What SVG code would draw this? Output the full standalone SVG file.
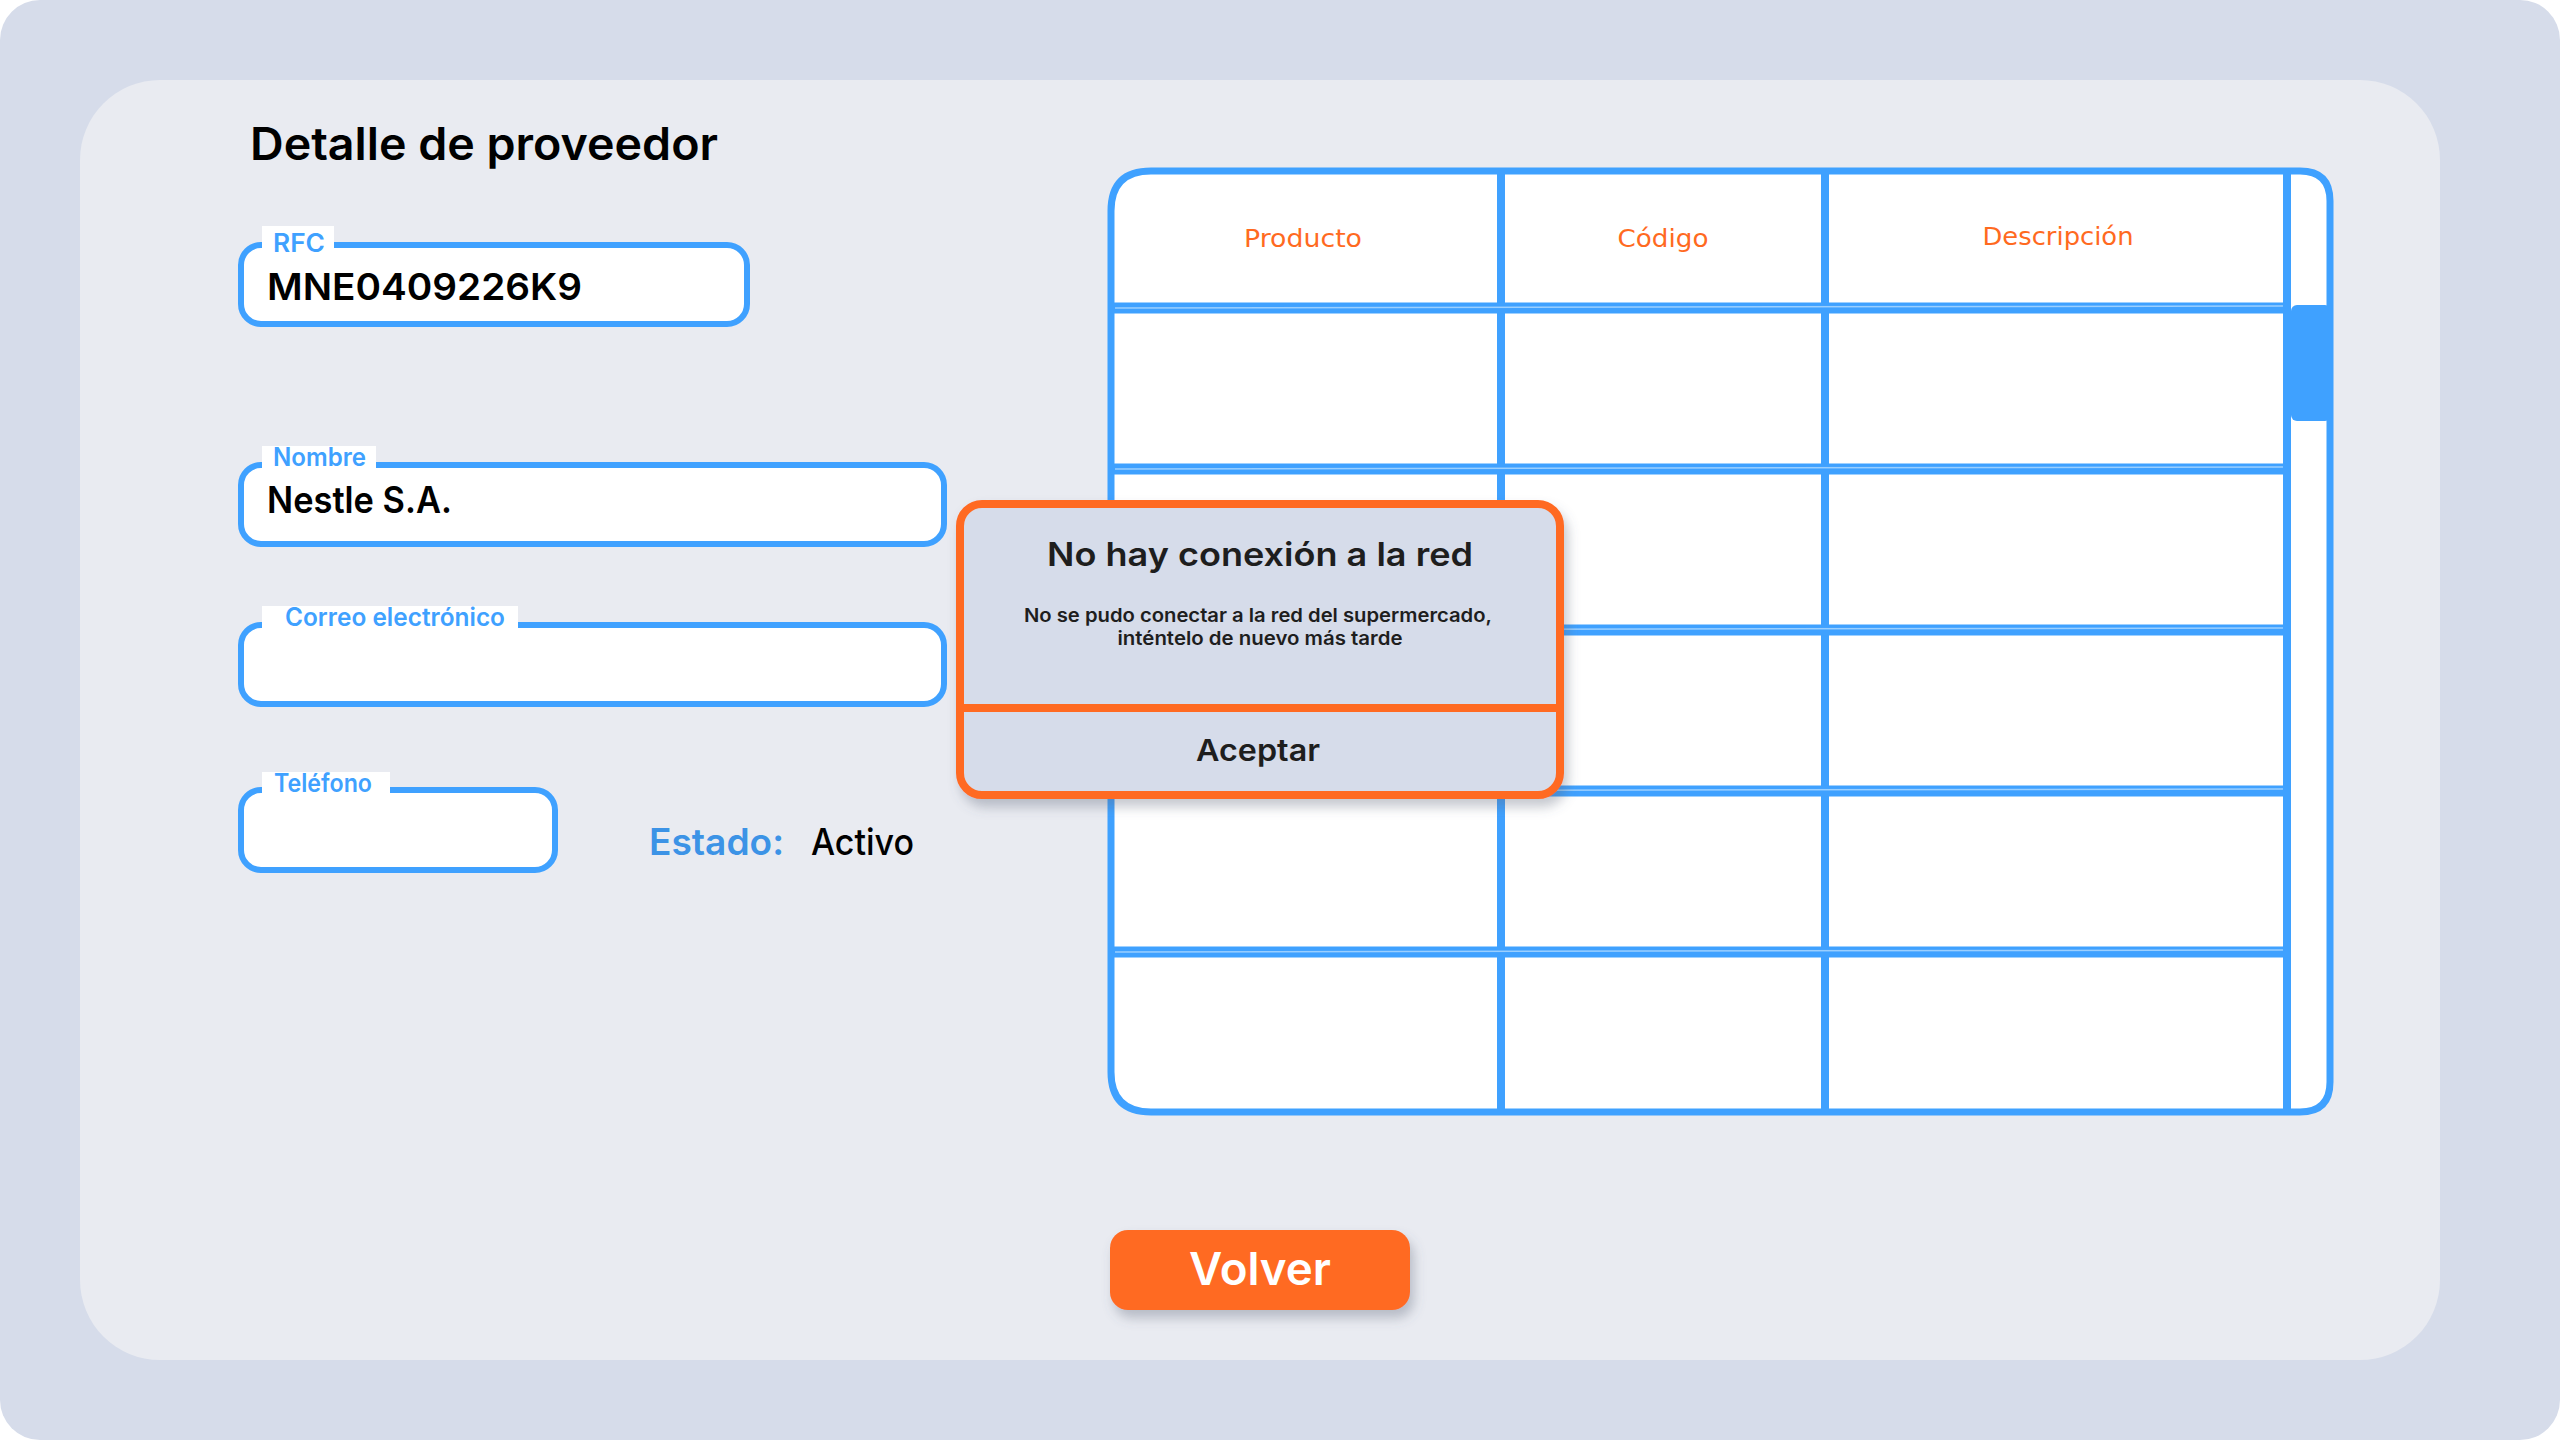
<svg xmlns="http://www.w3.org/2000/svg" width="2560" height="1440" viewBox="0 0 2560 1440">
<defs>
<style>
text{font-family:Inter,Lato,"Liberation Sans",sans-serif}
.field{fill:#FFFFFF;stroke:#3FA1FF;stroke-width:6}
.lblbg{fill:#FFFFFF}
.lbl{font-weight:600;font-size:25px;fill:#3FA1FF}
.val{font-weight:600;font-size:37px;fill:#000000}
.hdr{font-family:"DejaVu Sans","Liberation Sans",sans-serif;font-size:25px;fill:#FF6A1F;text-anchor:middle}
.grid{stroke:#3FA1FF;stroke-width:8;fill:none}
.rowl{stroke:#3FA1FF;stroke-width:11;fill:none}
.rowhl{stroke:#9ACFFF;stroke-width:1.5;fill:none}
.dlg{fill:#1E1E1E;text-anchor:middle;font-weight:600}
</style>
<filter id="shadow" x="-10%" y="-10%" width="130%" height="140%">
<feDropShadow dx="4" dy="8" stdDeviation="6" flood-color="#5A6275" flood-opacity="0.35"/>
</filter>
</defs>
<rect x="0" y="0" width="2560" height="1440" fill="#FFFFFF"/>
<g id="frame">
<rect x="0" y="0" width="2560" height="1440" rx="40" fill="#D6DCEA"/>
<rect x="80" y="80" width="2360" height="1280" rx="80" fill="#E9EBF1"/>
</g>
<g id="title">
<text x="250" y="160" font-weight="600" font-size="45" fill="#000000" textLength="468" lengthAdjust="spacingAndGlyphs">Detalle de proveedor</text>
</g>
<g id="field-rfc">
<rect class="field" x="241" y="245" width="506" height="79" rx="20"/>
<rect class="lblbg" x="262" y="226" width="72" height="22"/>
<text class="lbl" x="273" y="252" textLength="52" lengthAdjust="spacingAndGlyphs">RFC</text>
<text class="val" x="267" y="300" textLength="315" lengthAdjust="spacingAndGlyphs">MNE0409226K9</text>
</g>
<g id="field-nombre">
<rect class="field" x="241" y="465" width="703" height="79" rx="20"/>
<rect class="lblbg" x="262" y="446" width="114" height="22"/>
<text class="lbl" x="273" y="466" font-size="24" textLength="93" lengthAdjust="spacingAndGlyphs">Nombre</text>
<text class="val" x="267" y="513" font-size="35" textLength="185" lengthAdjust="spacingAndGlyphs">Nestle S.A.</text>
</g>
<g id="field-correo">
<rect class="field" x="241" y="625" width="703" height="79" rx="20"/>
<rect class="lblbg" x="262" y="606" width="256" height="22"/>
<text class="lbl" x="285" y="626" font-size="24" textLength="220" lengthAdjust="spacingAndGlyphs">Correo electrónico</text>
</g>
<g id="field-telefono">
<rect class="field" x="241" y="790" width="314" height="80" rx="20"/>
<rect class="lblbg" x="262" y="772" width="128" height="22"/>
<text class="lbl" x="274" y="792" font-size="24" textLength="98" lengthAdjust="spacingAndGlyphs">Teléfono</text>
</g>
<g id="estado">
<text x="649" y="855" font-weight="600" font-size="37" fill="#3C93E6" textLength="135" lengthAdjust="spacingAndGlyphs">Estado:</text>
<text x="811" y="855" font-weight="500" font-size="37" fill="#000000" textLength="103" lengthAdjust="spacingAndGlyphs">Activo</text>
</g>
<g id="table">
<path d="M1151,171 L2300,171 Q2330,171 2330,201 L2330,1082 Q2330,1112 2300,1112 L1151,1112 Q1111,1112 1111,1072 L1111,211 Q1111,171 1151,171 Z" fill="#FFFFFF" stroke="#3FA1FF" stroke-width="7"/>
<line class="grid" x1="1501" y1="171" x2="1501" y2="1112"/>
<line class="grid" x1="1825" y1="171" x2="1825" y2="1112"/>
<line class="grid" x1="2287" y1="171" x2="2287" y2="1112"/>
<line class="rowl" x1="1111" y1="308" x2="2287" y2="308"/>
<line class="rowl" x1="1111" y1="469" x2="2287" y2="469"/>
<line class="rowl" x1="1111" y1="630" x2="2287" y2="630"/>
<line class="rowl" x1="1111" y1="791" x2="2287" y2="791"/>
<line class="rowl" x1="1111" y1="952" x2="2287" y2="952"/>
<line class="rowhl" x1="1115" y1="308" x2="2283" y2="306"/>
<line class="rowhl" x1="1115" y1="469" x2="2283" y2="467"/>
<line class="rowhl" x1="1115" y1="630" x2="2283" y2="628"/>
<line class="rowhl" x1="1115" y1="791" x2="2283" y2="789"/>
<line class="rowhl" x1="1115" y1="952" x2="2283" y2="950"/>
<rect x="2291" y="305" width="40" height="116" rx="6" fill="#3FA1FF"/>
<text class="hdr" x="1303" y="247" textLength="118" lengthAdjust="spacingAndGlyphs">Producto</text>
<text class="hdr" x="1663" y="247" textLength="91" lengthAdjust="spacingAndGlyphs">Código</text>
<text class="hdr" x="2058" y="245" textLength="151" lengthAdjust="spacingAndGlyphs">Descripción</text>
</g>
<g id="dialog">
<rect x="960" y="504" width="600" height="291" rx="22" fill="#D6DCEA" stroke="#FF6A22" stroke-width="8" filter="url(#shadow)"/>
<line x1="960" y1="708" x2="1560" y2="708" stroke="#FF6A22" stroke-width="8"/>
<text class="dlg" x="1260" y="566" font-size="33" textLength="426" lengthAdjust="spacingAndGlyphs">No hay conexión a la red</text>
<text class="dlg" x="1258" y="622" font-size="19" textLength="468" lengthAdjust="spacingAndGlyphs">No se pudo conectar a la red del supermercado,</text>
<text class="dlg" x="1260" y="645" font-size="19" textLength="285" lengthAdjust="spacingAndGlyphs">inténtelo de nuevo más tarde</text>
<text class="dlg" x="1258" y="761" font-size="30" textLength="124" lengthAdjust="spacingAndGlyphs">Aceptar</text>
</g>
<g id="btn-volver">
<rect x="1110" y="1230" width="300" height="80" rx="18" fill="#FF6B22" filter="url(#shadow)"/>
<text x="1260" y="1285" font-weight="600" font-size="45" fill="#FFFFFF" text-anchor="middle" textLength="142" lengthAdjust="spacingAndGlyphs">Volver</text>
</g>
<g id="connectors"/>
</svg>
